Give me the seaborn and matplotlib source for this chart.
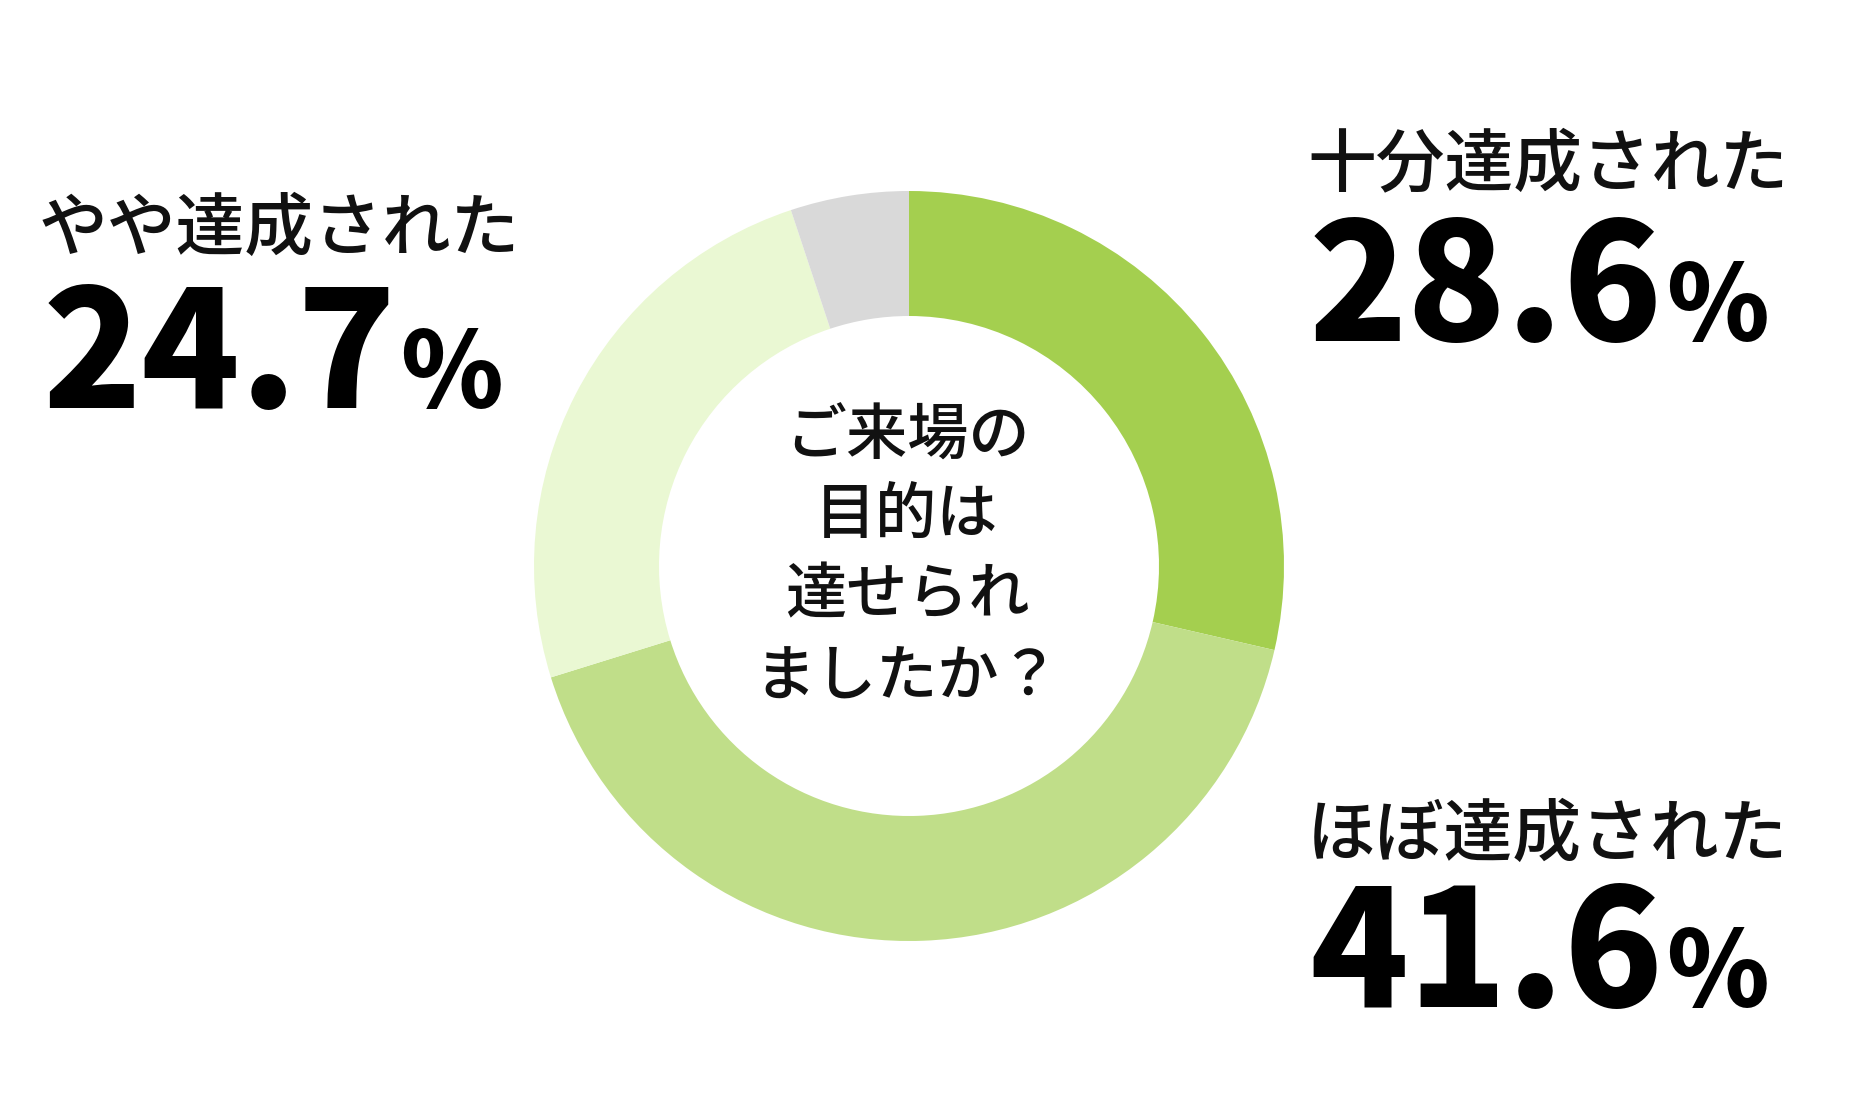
import matplotlib
matplotlib.use("Agg")
import matplotlib.pyplot as plt
import seaborn as sns

# ---- data ----
categories = ["十分達成された", "ほぼ達成された", "やや達成された", "その他"]
shares = [28.6, 41.6, 24.7, 5.1]
colors = ["#a4cf4f", "#c0de89", "#eaf8d3", "#d9d9d9"]
center_lines = ["ご来場の", "目的は", "達せられ", "ましたか？"]

sns.set_theme(style="white")
plt.rcParams["font.family"] = ["Noto Sans CJK JP", "DejaVu Sans"]

W, H = 1856, 1109
fig = plt.figure(figsize=(W / 100, H / 100), dpi=100)
ax = fig.add_axes([0, 0, 1, 1])

# donut, pixel coordinates (y measured from bottom)
cx, cy, r_out, ring = 909, H - 566, 375, 125
ax.pie(shares, colors=sns.color_palette(colors), startangle=90, counterclock=False,
       radius=r_out, center=(cx, cy), frame=False,
       wedgeprops=dict(width=ring, linewidth=0))
ax.set_xlim(0, W)
ax.set_ylim(0, H)
ax.set_aspect("equal")
ax.axis("off")

# centre question
line_y = [437, 516, 596, 677]
for txt, y in zip(center_lines, line_y):
    ax.text(cx - 2, H - y, txt, ha="center", va="center", fontsize=44,
            fontweight="medium", color="#111111")

# labels: (category index, label x, label centre y, value x, value baseline y)
label_pos = [(0, 1307, 165, 1309, 341), (1, 1307, 836, 1309, 1007),
             (2, 39, 230, 43, 408)]
fig.canvas.draw()
renderer = fig.canvas.get_renderer()
for i, lx, ly, vx, vy in label_pos:
    ax.text(lx, H - ly, categories[i], ha="left", va="center", fontsize=49.5,
            fontweight="medium", color="#111111")
    num = ax.text(vx, H - vy, f"{shares[i]:.1f}", ha="left", va="baseline",
                  fontsize=117, fontweight="black", color="#000000")
    bb = num.get_window_extent(renderer=renderer)
    ax.text(bb.x1 + 3, H - vy, "%", ha="left", va="baseline",
            fontsize=75, fontweight="black", color="#000000")

fig.savefig("out.png", dpi=100, facecolor="white")
